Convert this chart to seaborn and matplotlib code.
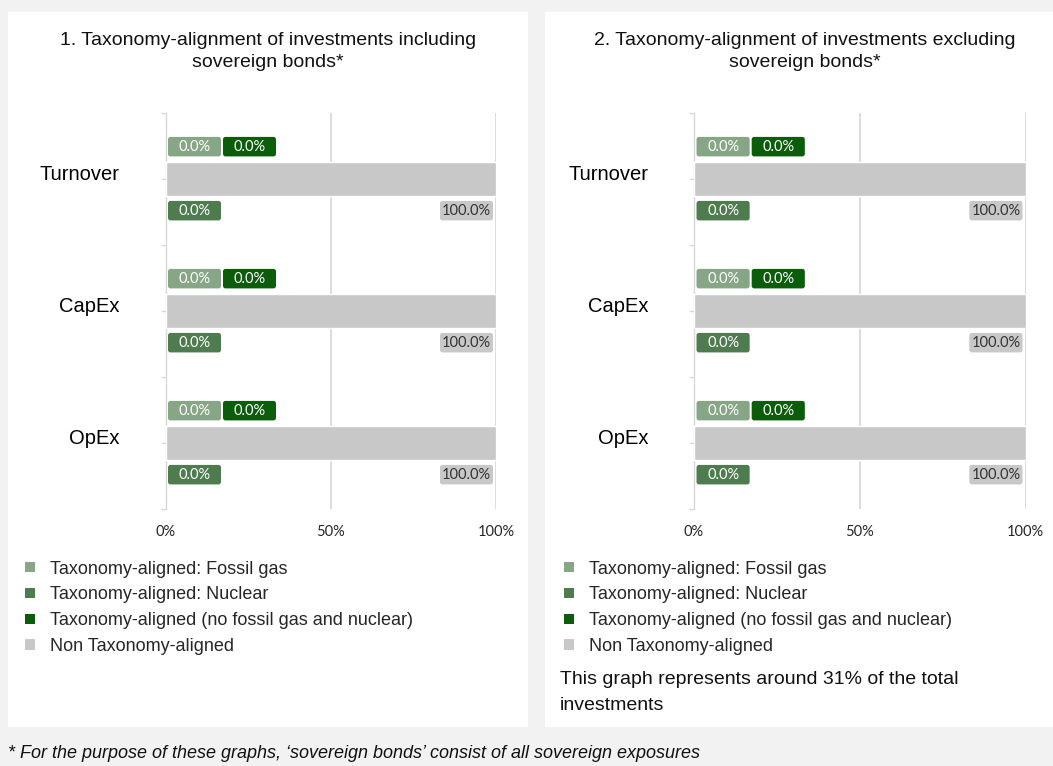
import numpy as np
import pandas as pd
import matplotlib
matplotlib.use("Agg")
import matplotlib.pyplot as plt
from matplotlib.patches import Rectangle, FancyBboxPatch, Patch
from matplotlib.transforms import ScaledTranslation
import seaborn as sns

# ---------------- data ----------------
categories = ["Turnover", "CapEx", "OpEx"]
series_names = [
    "Taxonomy-aligned: Fossil gas",
    "Taxonomy-aligned: Nuclear",
    "Taxonomy-aligned (no fossil gas and nuclear)",
    "Non Taxonomy-aligned",
]
# panel 1: including sovereign bonds
p1_fossil_gas = [0.0, 0.0, 0.0]
p1_nuclear = [0.0, 0.0, 0.0]
p1_aligned = [0.0, 0.0, 0.0]
p1_non_aligned = [100.0, 100.0, 100.0]
# panel 2: excluding sovereign bonds
p2_fossil_gas = [0.0, 0.0, 0.0]
p2_nuclear = [0.0, 0.0, 0.0]
p2_aligned = [0.0, 0.0, 0.0]
p2_non_aligned = [100.0, 100.0, 100.0]

x_ticks = [0, 50, 100]
x_tick_labels = ["0%", "50%", "100%"]

titles = [
    ["1. Taxonomy-alignment of investments including", "sovereign bonds*"],
    ["2. Taxonomy-alignment of investments excluding", "sovereign bonds*"],
]
note_lines = ["This graph represents around 31% of the total", "investments"]
footnote = "* For the purpose of these graphs, \u2018sovereign bonds\u2019 consist of all sovereign exposures"

colors = {
    series_names[0]: "#86a686",
    series_names[1]: "#4f7c4f",
    series_names[2]: "#0b5c0b",
    series_names[3]: "#c8c8c8",
}
label_text_colors = {
    series_names[0]: "white",
    series_names[1]: "white",
    series_names[2]: "white",
    series_names[3]: "#333333",
}

# ---------------- style ----------------
sns.set_theme(style="white")
plt.rcParams["font.family"] = ["Liberation Sans", "DejaVu Sans"]

W, H = 1053, 766
fig = plt.figure(figsize=(W / 100, H / 100), dpi=100, facecolor="#f2f2f2")

# white panels
for (x0, x1) in [(8, 528), (545, 1053)]:
    fig.add_artist(Rectangle((x0 / W, 1 - 727 / H), (x1 - x0) / W, (727 - 12) / H,
                             transform=fig.transFigure, facecolor="white",
                             edgecolor="none", zorder=-10))

GRID = "#d9d9d9"
BAR_W = 0.26


def draw_panel(ax, fossil, nuclear, aligned, non_aligned):
    rows = []
    for name, vals in zip(series_names, [fossil, nuclear, aligned, non_aligned]):
        for c, v in zip(categories, vals):
            rows.append({"category": c, "series": name, "value": v})
    df = pd.DataFrame(rows)
    sns.barplot(data=df, x="value", y="category", hue="series", order=categories,
                hue_order=series_names, palette=colors, dodge=False, width=BAR_W,
                saturation=1, legend=False, ax=ax, zorder=3, errorbar=None)
    ax.set_xlim(0, 100)
    ax.set_ylim(len(categories) - 0.5, -0.5)
    ax.set_facecolor("none")
    ax.set_xlabel("")
    ax.set_ylabel("")
    for s in ["top", "right", "bottom"]:
        ax.spines[s].set_visible(False)
    ax.spines["left"].set_color(GRID)
    ax.spines["left"].set_linewidth(1.0)
    ax.set_axisbelow(True)
    ax.grid(axis="x", color=GRID, linewidth=1.3)
    ax.grid(axis="y", visible=False)
    ax.set_xticks(x_ticks)
    ax.set_xticklabels(x_tick_labels, fontfamily="Lato", fontsize=10.5, color="#262626")
    ax.tick_params(axis="x", length=0, pad=11.5)
    ax.set_yticks(range(len(categories)))
    ax.set_yticklabels(categories, fontsize=14.5, color="black")
    ax.set_yticks([i - 0.5 for i in range(len(categories) + 1)], minor=True)
    ax.tick_params(axis="y", which="both", length=3.6, width=1.0, color=GRID,
                   direction="out", left=True)
    ax.tick_params(axis="y", which="major", pad=29.5)
    off = ScaledTranslation(0, 6 / 100, fig.dpi_scale_trans)
    for lab in ax.get_yticklabels():
        lab.set_transform(lab.get_transform() + off)

    # data labels as rounded boxes
    px_x = 100 / 330.5          # data units per pixel (x)
    px_y = 1 / 132.0            # data units per pixel (y)
    bw, bh = 53 * px_x, 19.5 * px_y
    aspect = px_y / px_x
    for i in range(len(categories)):
        specs = [
            (series_names[0], fossil[i], fossil[i] + 2.5 * px_x, i - 0.245),
            (series_names[2], aligned[i], fossil[i] + 2.5 * px_x + bw + 2 * px_x, i - 0.245),
            (series_names[1], nuclear[i], nuclear[i] + 2.5 * px_x, i + 0.24),
            (series_names[3], non_aligned[i], non_aligned[i] - 3 * px_x - bw, i + 0.24),
        ]
        for name, v, left, yc in specs:
            box = FancyBboxPatch((left, yc - bh / 2), bw, bh,
                                 boxstyle=f"round,pad=0,rounding_size={2.5 * px_x}",
                                 mutation_aspect=aspect, facecolor=colors[name],
                                 edgecolor="none", zorder=5)
            ax.add_patch(box)
            ax.text(left + bw / 2, yc, f"{v:.1f}%", ha="center", va="center",
                    fontfamily="Lato", fontsize=10.5, color=label_text_colors[name],
                    zorder=6)


ax1 = fig.add_axes([165.5 / W, 1 - 509 / H, 330.5 / W, 396 / H])
ax2 = fig.add_axes([694 / W, 1 - 509 / H, 331.5 / W, 396 / H])
draw_panel(ax1, p1_fossil_gas, p1_nuclear, p1_aligned, p1_non_aligned)
draw_panel(ax2, p2_fossil_gas, p2_nuclear, p2_aligned, p2_non_aligned)

# titles
for cx, lines in zip([268, 805], titles):
    fig.text(cx / W, 1 - 40.5 / H, lines[0], ha="center", va="center", fontsize=14, color="#111111")
    fig.text(cx / W, 1 - 62.5 / H, lines[1], ha="center", va="center", fontsize=14, color="#111111")

# legends
handles = [Patch(facecolor=colors[n], edgecolor="none") for n in series_names]
for lx in [25, 564]:
    fig.legend(handles, series_names, loc="upper left",
               bbox_to_anchor=(lx / W, 1 - 560.5 / H), bbox_transform=fig.transFigure,
               frameon=False, fontsize=13, handlelength=0.55, handleheight=0.5,
               handletextpad=0.83, labelspacing=0.49, borderpad=0, borderaxespad=0)

# note under right chart
fig.text(560 / W, 1 - 680 / H, note_lines[0], ha="left", va="center", fontsize=14, color="#111111")
fig.text(560 / W, 1 - 705 / H, note_lines[1], ha="left", va="center", fontsize=14, color="#111111")

# footnote
fig.text(8 / W, 1 - 754 / H, footnote, ha="left", va="center", fontsize=13,
         style="italic", color="#111111")

fig.savefig("out.png", dpi=100, facecolor=fig.get_facecolor())
